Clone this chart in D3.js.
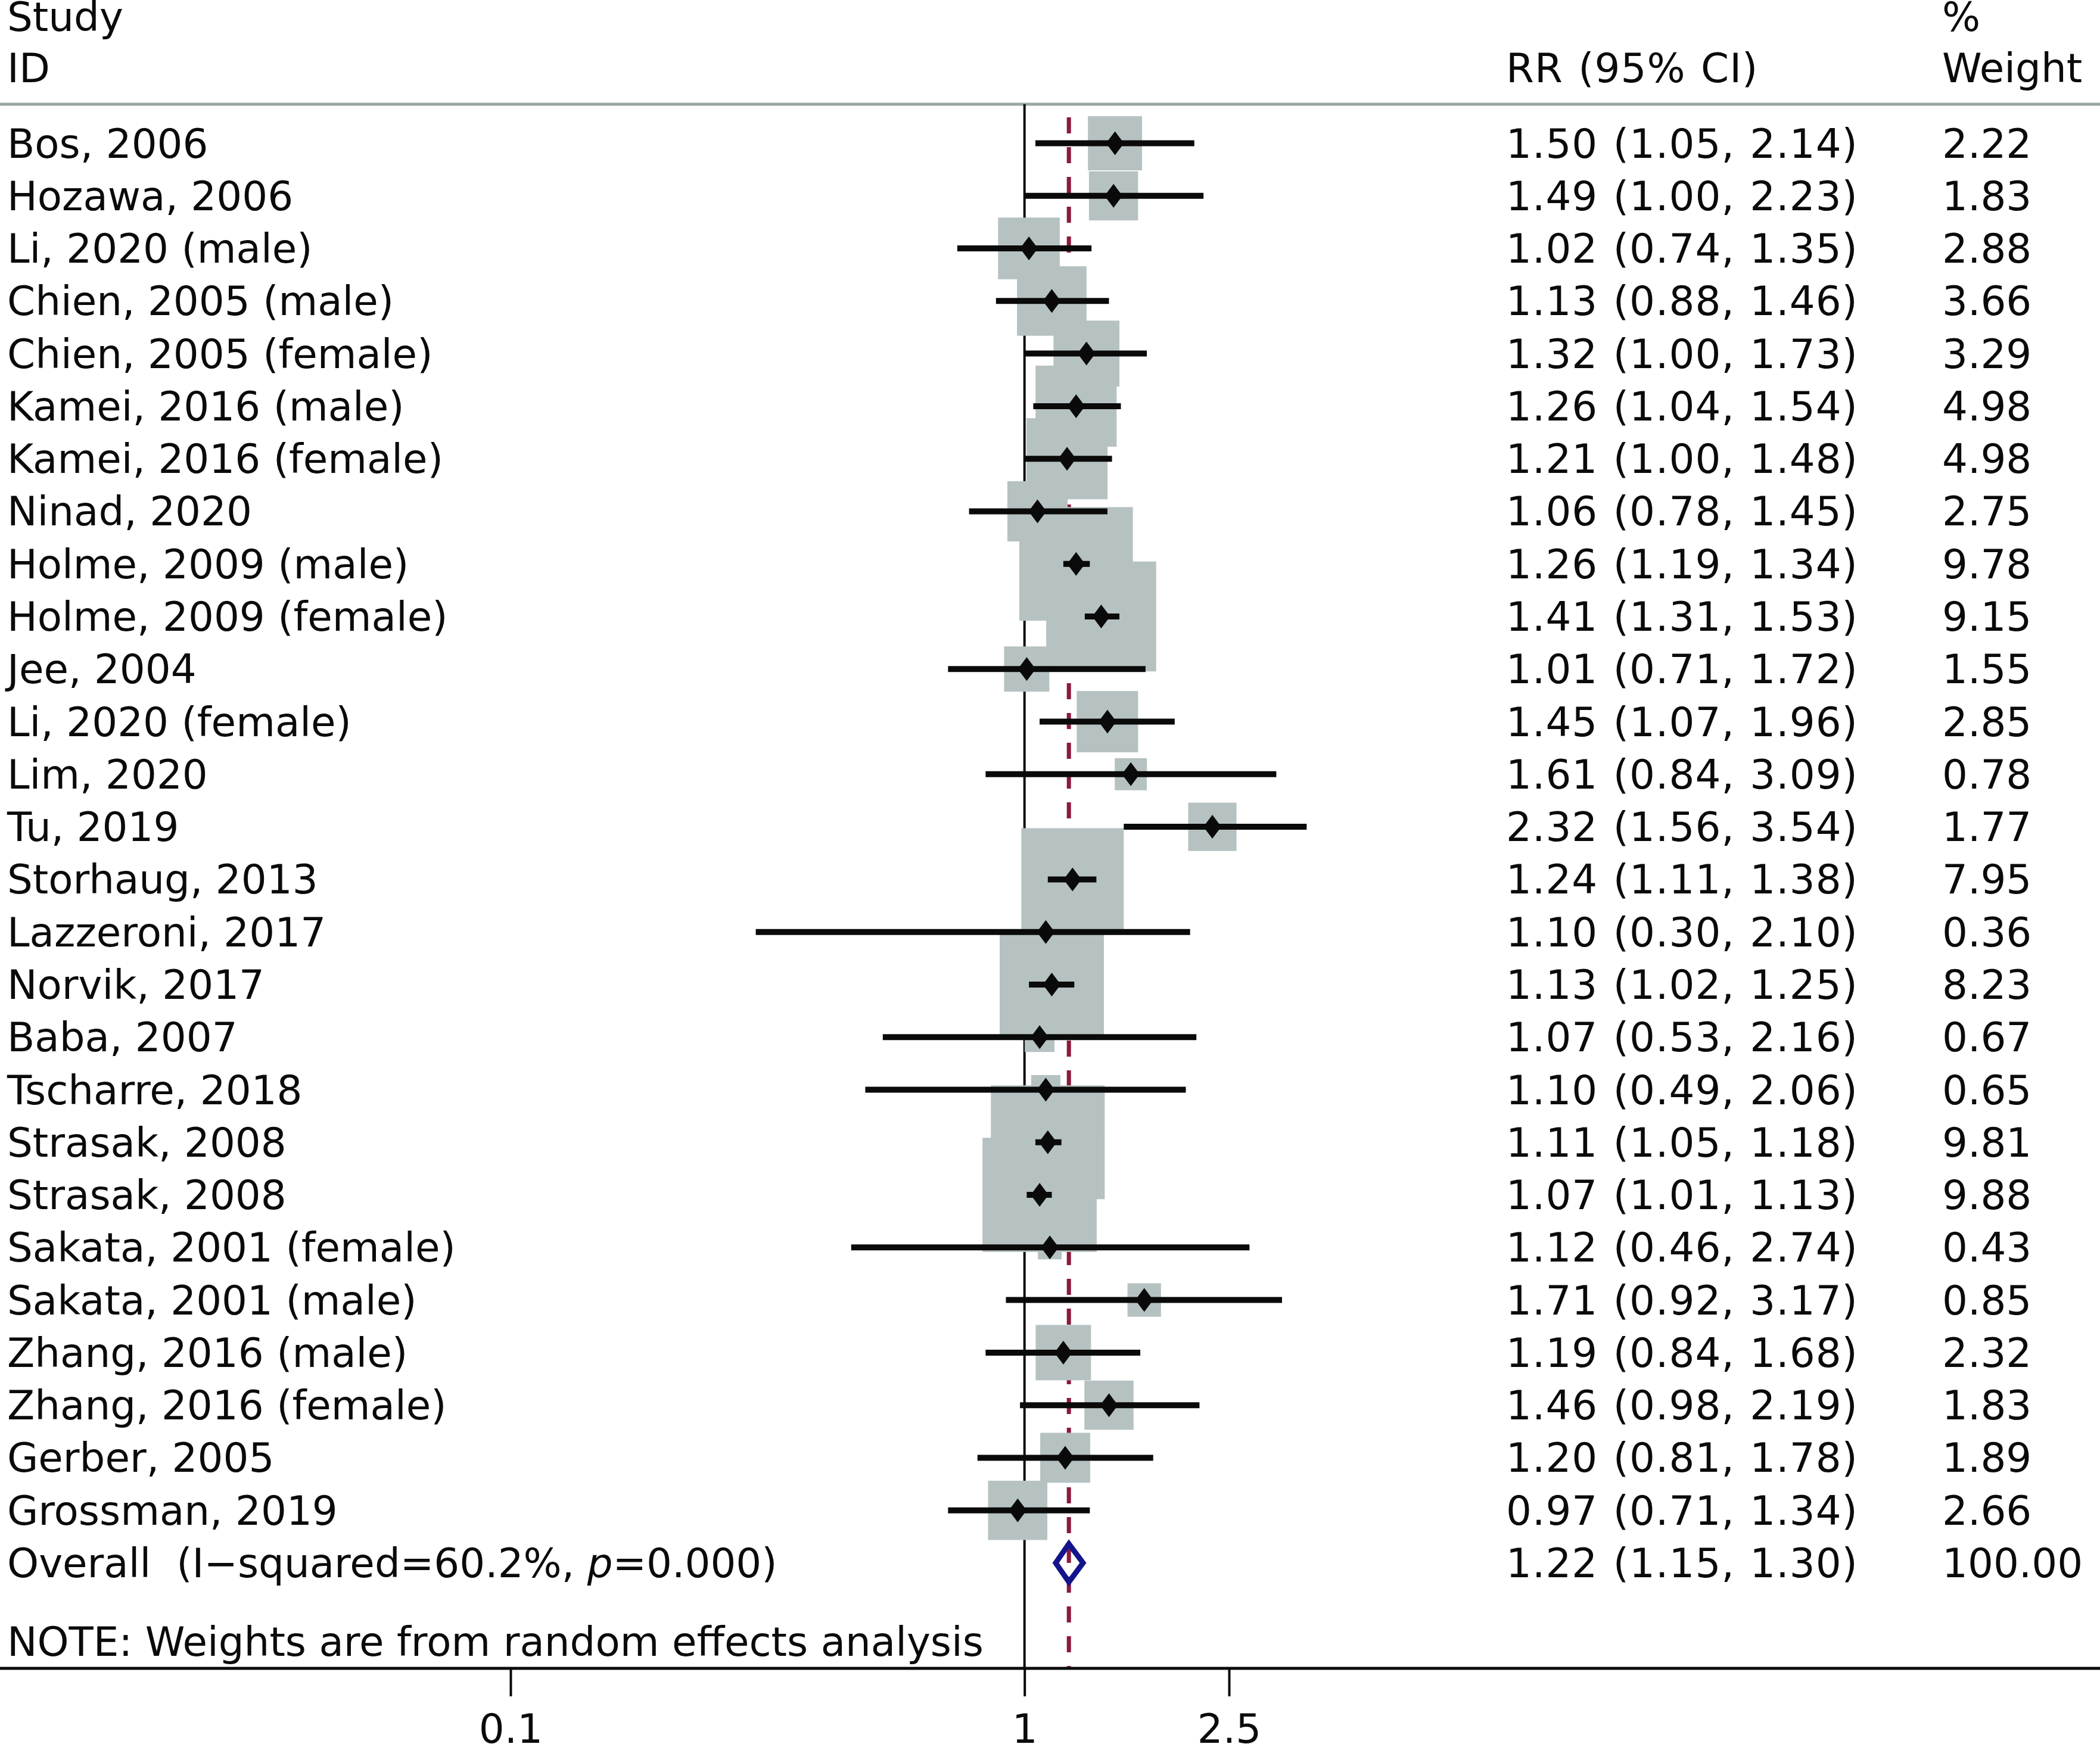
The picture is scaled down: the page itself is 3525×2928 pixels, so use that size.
<!DOCTYPE html>
<html>
<head>
<meta charset="utf-8">
<script src="https://cdn.jsdelivr.net/npm/d3@7"></script>
<style>
  body { margin: 0; background: #fff; }
  svg text { font-family: "DejaVu Sans", Verdana, sans-serif; fill: #0a0a0a; white-space: pre; }
</style>
</head>
<body>
<svg id="chart" width="3525" height="2928"></svg>
<script>
// study rows, top to bottom
var studies = ["Bos, 2006", "Hozawa, 2006", "Li, 2020 (male)", "Chien, 2005 (male)", "Chien, 2005 (female)",
  "Kamei, 2016 (male)", "Kamei, 2016 (female)", "Ninad, 2020", "Holme, 2009 (male)", "Holme, 2009 (female)",
  "Jee, 2004", "Li, 2020 (female)", "Lim, 2020", "Tu, 2019", "Storhaug, 2013", "Lazzeroni, 2017",
  "Norvik, 2017", "Baba, 2007", "Tscharre, 2018", "Strasak, 2008", "Strasak, 2008", "Sakata, 2001 (female)",
  "Sakata, 2001 (male)", "Zhang, 2016 (male)", "Zhang, 2016 (female)", "Gerber, 2005", "Grossman, 2019"];
var rr = [1.50, 1.49, 1.02, 1.13, 1.32, 1.26, 1.21, 1.06, 1.26, 1.41, 1.01, 1.45, 1.61, 2.32, 1.24, 1.10,
  1.13, 1.07, 1.10, 1.11, 1.07, 1.12, 1.71, 1.19, 1.46, 1.20, 0.97];
var lower = [1.05, 1.00, 0.74, 0.88, 1.00, 1.04, 1.00, 0.78, 1.19, 1.31, 0.71, 1.07, 0.84, 1.56, 1.11, 0.30,
  1.02, 0.53, 0.49, 1.05, 1.01, 0.46, 0.92, 0.84, 0.98, 0.81, 0.71];
var upper = [2.14, 2.23, 1.35, 1.46, 1.73, 1.54, 1.48, 1.45, 1.34, 1.53, 1.72, 1.96, 3.09, 3.54, 1.38, 2.10,
  1.25, 2.16, 2.06, 1.18, 1.13, 2.74, 3.17, 1.68, 2.19, 1.78, 1.34];
var weights = [2.22, 1.83, 2.88, 3.66, 3.29, 4.98, 4.98, 2.75, 9.78, 9.15, 1.55, 2.85, 0.78, 1.77, 7.95, 0.36,
  8.23, 0.67, 0.65, 9.81, 9.88, 0.43, 0.85, 2.32, 1.83, 1.89, 2.66];

var overall = { rr: 1.22, lo: 1.15, hi: 1.30, weight: 100.00 };
var overallLabel = ["Overall  (I\u2212squared=60.2%, ", "p", "=0.000)"];
var noteText = "NOTE: Weights are from random effects analysis";
var tickValues = [0.1, 1, 2.5];
var tickLabels = ["0.1", "1", "2.5"];

var W = 3525, H = 2928;
var fontSize = 67.5;
var colStudy = 12, colRR = 2528, colWt = 3260;
var headerLineY = 175, axisY = 2801;

var svg = d3.select("#chart");

var x = d3.scaleLog().domain([0.1, 2.5]).range([857, 2063]);
var y = d3.scaleLinear().domain([0, studies.length]).range([240.5, 2624]);
var side = d3.scaleSqrt().domain([0, 10]).range([0, 61 * Math.sqrt(10)]);

var rows = studies.map(function(s, i) {
    return { name: s, rr: rr[i], lo: lower[i], hi: upper[i], w: weights[i], i: i };
});

var fmt = d3.format(".2f");

// header
var hdr = svg.append("g").style("font-size", fontSize + "px");
hdr.append("text").attr("x", colStudy).attr("y", 52).text("Study");
hdr.append("text").attr("x", colStudy).attr("y", 138).text("ID");
hdr.append("text").attr("x", colRR).attr("y", 138)
    .style("letter-spacing", "1px").style("word-spacing", "3px").text("RR (95% CI)");
hdr.append("text").attr("x", colWt).attr("y", 52).text("%");
hdr.append("text").attr("x", colWt).attr("y", 138).text("Weight");

svg.append("line")
    .attr("x1", 0).attr("x2", W)
    .attr("y1", headerLineY).attr("y2", headerLineY)
    .attr("stroke", "#98a6a4").attr("stroke-width", 5);

// null line at 1
svg.append("line")
    .attr("x1", x(1)).attr("x2", x(1))
    .attr("y1", headerLineY).attr("y2", axisY)
    .attr("stroke", "#0a0a0a").attr("stroke-width", 4);

// overall effect dashed line
svg.append("line")
    .attr("x1", x(overall.rr)).attr("x2", x(overall.rr))
    .attr("y1", 197).attr("y2", axisY)
    .attr("stroke", "#8c1a3c").attr("stroke-width", 7)
    .attr("stroke-dasharray", "27,23");

// weight boxes
svg.append("g").selectAll("rect")
    .data(rows).enter().append("rect")
    .attr("x", function(d) { return x(d.rr) - side(d.w) / 2; })
    .attr("y", function(d) { return y(d.i) - side(d.w) / 2; })
    .attr("width", function(d) { return side(d.w); })
    .attr("height", function(d) { return side(d.w); })
    .attr("fill", "#b6c2c1");

// CI lines
svg.append("g").selectAll("line")
    .data(rows).enter().append("line")
    .attr("x1", function(d) { return x(d.lo); })
    .attr("x2", function(d) { return x(d.hi); })
    .attr("y1", function(d) { return y(d.i); })
    .attr("y2", function(d) { return y(d.i); })
    .attr("stroke", "#0a0a0a").attr("stroke-width", 10);

// point estimates
function diamond(cx, cy, hw, hh) {
    var p = d3.path();
    p.moveTo(cx - hw, cy);
    p.lineTo(cx, cy - hh);
    p.lineTo(cx + hw, cy);
    p.lineTo(cx, cy + hh);
    p.closePath();
    return p.toString();
}
svg.append("g").selectAll("path")
    .data(rows).enter().append("path")
    .attr("d", function(d) { return diamond(x(d.rr), y(d.i), 15, 20); })
    .attr("fill", "#0a0a0a");

// overall diamond
var yO = y(studies.length);
var op = d3.path();
op.moveTo(x(overall.lo), yO);
op.lineTo(x(overall.rr), yO - 32);
op.lineTo(x(overall.hi), yO);
op.lineTo(x(overall.rr), yO + 32);
op.closePath();
svg.append("path").attr("d", op.toString())
    .attr("fill", "none").attr("stroke", "#14148c").attr("stroke-width", 9);

// row text
var txt = svg.append("g").style("font-size", fontSize + "px");
txt.selectAll("text.name").data(rows).enter().append("text")
    .attr("class", "name")
    .attr("x", colStudy).attr("y", function(d) { return y(d.i) + 24; })
    .text(function(d) { return d.name; });
txt.selectAll("text.ci").data(rows).enter().append("text")
    .attr("class", "ci")
    .attr("x", colRR).attr("y", function(d) { return y(d.i) + 24; })
    .style("letter-spacing", "1px").style("word-spacing", "3px")
    .text(function(d) { return fmt(d.rr) + " (" + fmt(d.lo) + ", " + fmt(d.hi) + ")"; });
txt.selectAll("text.wt").data(rows).enter().append("text")
    .attr("class", "wt")
    .attr("x", colWt).attr("y", function(d) { return y(d.i) + 24; })
    .text(function(d) { return fmt(d.w); });

var ot = txt.append("text").attr("x", colStudy).attr("y", yO + 24);
ot.append("tspan").text(overallLabel[0]);
ot.append("tspan").style("font-style", "italic").text(overallLabel[1]);
ot.append("tspan").text(overallLabel[2]);
txt.append("text").attr("x", colRR).attr("y", yO + 24)
    .style("letter-spacing", "1px").style("word-spacing", "3px")
    .text(fmt(overall.rr) + " (" + fmt(overall.lo) + ", " + fmt(overall.hi) + ")");
txt.append("text").attr("x", colWt).attr("y", yO + 24).text(fmt(overall.weight));

txt.append("text").attr("x", colStudy).attr("y", 2780).text(noteText);

// x axis
svg.append("line")
    .attr("x1", 0).attr("x2", W)
    .attr("y1", axisY).attr("y2", axisY)
    .attr("stroke", "#0a0a0a").attr("stroke-width", 5);

var axis = d3.axisBottom(x)
    .tickValues(tickValues)
    .tickFormat(function(d, i) { return tickLabels[i]; })
    .tickSize(47).tickPadding(30);
var ax = svg.append("g").attr("transform", "translate(0," + axisY + ")").call(axis);
ax.select(".domain").remove();
ax.selectAll(".tick line").attr("stroke", "#0a0a0a").attr("stroke-width", 4);
ax.selectAll(".tick text")
    .attr("fill", "#0a0a0a")
    .style("font-size", fontSize + "px")
    .style("font-family", "'DejaVu Sans', Verdana, sans-serif");
</script>
</body>
</html>
